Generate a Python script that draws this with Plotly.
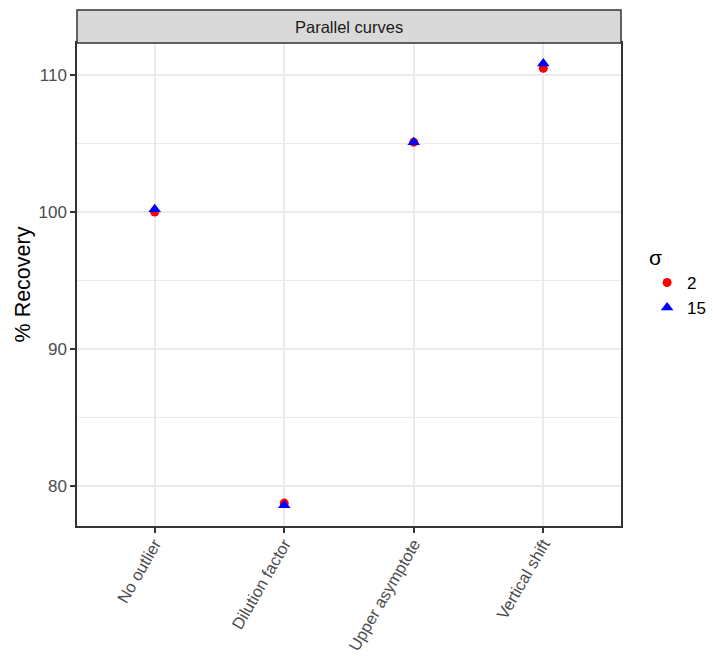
import plotly.graph_objects as go

# Scenarios and % recovery for each sigma level
scenarios = ["No outlier", "Dilution factor", "Upper asymptote", "Vertical shift"]
recovery_sigma2 = [100.0, 78.75, 105.1, 110.5]
recovery_sigma15 = [100.2, 78.6, 105.1, 110.85]
sigma_labels = ["2", "15"]
y_ticks = [80, 90, 100, 110]
panel_title = "Parallel curves"

FONT = "Liberation Sans, Arial, sans-serif"

fig = go.Figure()
fig.add_trace(go.Scatter(
    x=scenarios, y=recovery_sigma2, mode="markers", name=sigma_labels[0],
    marker=dict(symbol="circle", size=9, color="#ff0000", line=dict(width=0)),
))
fig.add_trace(go.Scatter(
    x=scenarios, y=recovery_sigma15, mode="markers", name=sigma_labels[1],
    marker=dict(symbol="triangle-up", size=11, color="#0000ff", line=dict(width=0)),
))

strip_h = 33 / 483

fig.update_layout(
    width=713, height=656,
    margin=dict(l=77, r=92, t=43, b=130, autoexpand=False),
    paper_bgcolor="white", plot_bgcolor="white",
    font=dict(family=FONT, size=16, color="#1a1a1a"),
    showlegend=True,
    legend=dict(
        title=dict(text="σ ", font=dict(size=21, color="black")),
        x=1.048, xanchor="left", y=0.597, yanchor="top",
        font=dict(size=17, color="black"),
        bgcolor="rgba(0,0,0,0)", tracegroupgap=0, itemsizing="trace",
    ),
    xaxis=dict(
        type="category", categoryorder="array", categoryarray=scenarios,
        range=[-0.6, 3.6], showgrid=True, gridcolor="#ebebeb", gridwidth=2,
        zeroline=False, ticks="outside", ticklen=5, tickwidth=1.5, tickcolor="#333333",
        tickangle=-60, tickfont=dict(size=16.5, color="#4d4d4d"), automargin=False,
        ticklabelstandoff=-5,
        showline=True, linecolor="#333333", linewidth=1.5, mirror=True,
    ),
    yaxis=dict(
        range=[77.08, 112.34], tickvals=y_ticks, showgrid=True,
        gridcolor="#ebebeb", gridwidth=2, zeroline=False, automargin=False,
        ticks="outside", ticklen=5, tickwidth=1.5, tickcolor="#333333",
        tickfont=dict(size=17, color="#4d4d4d"),
        minor=dict(tickvals=[85, 95, 105], showgrid=True,
                   gridcolor="#ebebeb", gridwidth=1, ticks=""),
        showline=True, linecolor="#333333", linewidth=1.5, mirror=True,
        title=dict(text="% Recovery", font=dict(size=21.5, color="black"), standoff=2),
    ),
    shapes=[dict(
        type="rect", xref="paper", yref="paper", x0=0, x1=1, y0=1, y1=1 + strip_h,
        fillcolor="#d9d9d9", line=dict(color="#333333", width=1.5), layer="above",
    )],
    annotations=[dict(
        text=panel_title, xref="paper", yref="paper", x=0.5, y=1 + strip_h / 2,
        xanchor="center", yanchor="middle", showarrow=False,
        font=dict(size=16.5, color="#1a1a1a"),
    )],
)

fig.write_html("out.html")
